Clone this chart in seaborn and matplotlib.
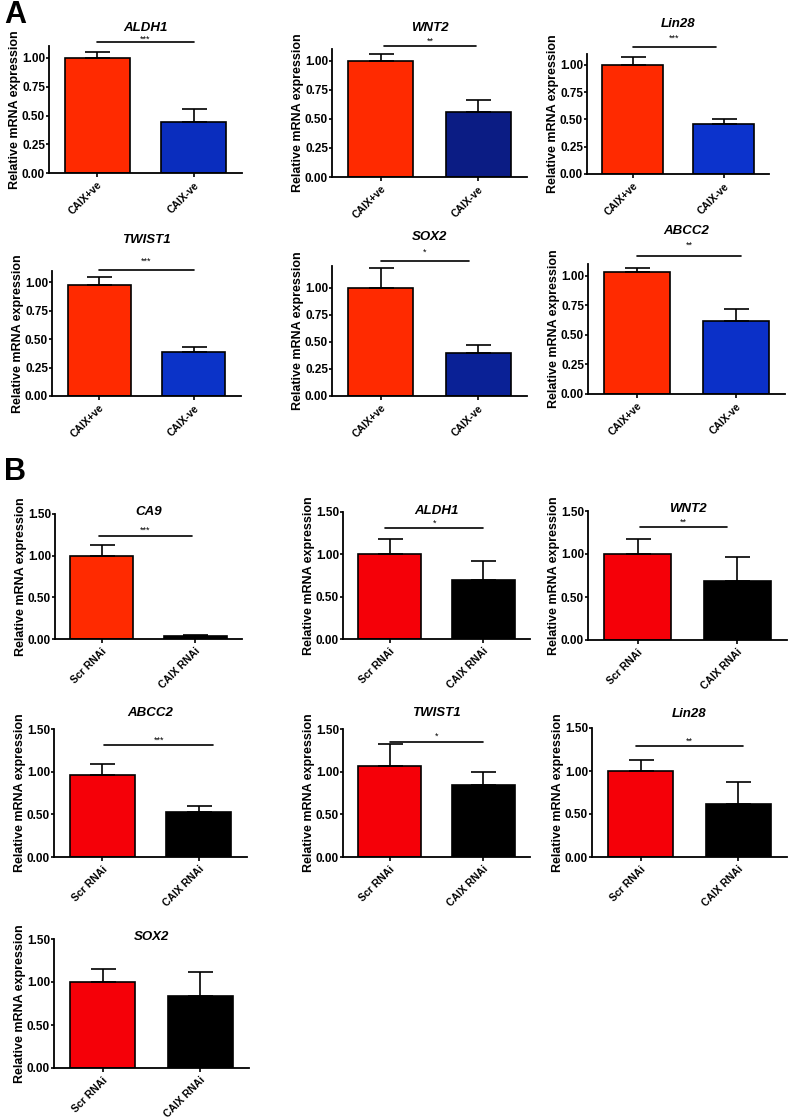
import matplotlib
matplotlib.use("Agg")
import matplotlib.pyplot as plt
import seaborn as sns
import pandas as pd

# ---------------- data ----------------
A_genes = ["ALDH1", "WNT2", "Lin28", "TWIST1", "SOX2", "ABCC2"]
A_groups = ["CAIX+ve", "CAIX-ve"]
A_pos_mean = [1.00, 1.00, 1.00, 0.98, 1.00, 1.03]
A_pos_err = [0.05, 0.06, 0.075, 0.07, 0.18, 0.04]
A_neg_mean = [0.44, 0.56, 0.46, 0.39, 0.40, 0.62]
A_neg_err = [0.12, 0.10, 0.045, 0.04, 0.075, 0.10]
A_sig = ["***", "**", "***", "***", "*", "**"]

B_genes = ["CA9", "ALDH1", "WNT2", "ABCC2", "TWIST1", "Lin28", "SOX2"]
B_groups = ["Scr RNAi", "CAIX RNAi"]
B_scr_mean = [1.00, 1.00, 1.00, 0.965, 1.07, 1.00, 1.00]
B_scr_err = [0.13, 0.18, 0.17, 0.12, 0.25, 0.13, 0.15]
B_kd_mean = [0.04, 0.70, 0.69, 0.53, 0.84, 0.62, 0.84]
B_kd_err = [0.01, 0.22, 0.27, 0.07, 0.16, 0.25, 0.28]
B_sig = ["***", "*", "**", "***", "*", "**", ""]

# ---------------- styles / layout ----------------
A_red = "#FF2A00"
A_blues = ["#0A2DBE", "#0B1C84", "#0C33CC", "#0B33C8", "#0A2196", "#0B30C8"]
B_reds = ["#FF2A00", "#F50008", "#F50008", "#F50008", "#F50008", "#F50008", "#F50008"]
B_black = "#000000"

W, H = 789, 1119
# left, right, bottom, top (pixels), title y (pixels), sig line y (data), sig x0, x1, ymax, star offset (pt)
A_layout = [
    (49, 242, 173, 46.5, 28, 1.14, 0.0, 1.0, 1.1, -1.5),
    (332, 527, 177, 49, 28, 1.13, 0.03, 0.98, 1.1, -0.5),
    (587, 769, 174, 54, 24, 1.165, 0.0, 0.92, 1.1, 3),
    (52, 241, 396, 271, 240, 1.11, 0.0, 1.0, 1.1, 3),
    (332, 527, 396, 266, 237, 1.25, 0.0, 0.9, 1.2, 3),
    (588, 785, 394, 264, 231, 1.17, 0.0, 1.05, 1.1, 4),
]
B_layout = [
    (55, 242, 639, 514, 512, 1.24, -0.03, 0.96, 1.5, 0.5),
    (343, 530, 639, 512, 511, 1.31, -0.05, 1.0, 1.5, 0.5),
    (588, 787, 640, 511, 509, 1.31, 0.02, 0.9, 1.5, 0.5),
    (54, 247, 857, 729, 713, 1.31, 0.02, 1.15, 1.5, 0.5),
    (343, 530, 857, 729, 713, 1.35, 0.0, 1.0, 1.5, 0.5),
    (592, 787, 857, 728, 714, 1.29, -0.05, 1.05, 1.5, 0.5),
    (54, 249, 1068, 939, 937, None, 0, 1, 1.5, 0.5),
]

sns.set_theme(style="ticks")
plt.rcParams["font.family"] = ["Liberation Sans", "DejaVu Sans"]
plt.rcParams["font.weight"] = "bold"
for k in ["text.color", "axes.labelcolor", "xtick.color", "ytick.color", "axes.edgecolor"]:
    plt.rcParams[k] = "black"

fig = plt.figure(figsize=(W / 100, H / 100), dpi=100)


def draw_panel(lay, gene, groups, means, errs, colors, sig, yticks):
    L, R, bot, top, ty, sy, sx0, sx1, ymax, soff = lay
    ax = fig.add_axes([L / W, 1 - bot / H, (R - L) / W, (bot - top) / H])
    df = pd.DataFrame({"group": groups, "value": means})
    sns.barplot(data=df, x="group", y="value", hue="group", palette=colors,
                legend=False, ax=ax, width=0.67, edgecolor="black",
                linewidth=1.2, saturation=1, errorbar=None, order=groups,
                hue_order=groups)
    ax.errorbar([0, 1], means, yerr=[[0, 0], errs], fmt="none", ecolor="black",
                elinewidth=1.2, capsize=9, capthick=1.2, zorder=1)
    ax.set_xlim(-0.5, 1.5)
    ax.set_ylim(0, ymax)
    ax.set_yticks(yticks)
    ax.set_yticklabels([f"{t:.2f}" for t in yticks], fontsize=8.5, fontweight="bold")
    ax.set_xticks([0, 1])
    ax.set_xticklabels(groups, rotation=45, ha="right", rotation_mode="anchor",
                       fontsize=7.5, fontweight="bold")
    ax.set_xlabel("")
    ax.set_ylabel("Relative mRNA expression", fontsize=9, fontweight="bold", labelpad=1)
    for s in ["top", "right"]:
        ax.spines[s].set_visible(False)
    for s in ["left", "bottom"]:
        ax.spines[s].set_linewidth(1.3)
        ax.spines[s].set_color("black")
    ax.tick_params(axis="y", length=2.5, width=1.2, pad=0.3, color="black")
    ax.tick_params(axis="x", length=3, width=1.2, pad=2, color="black")
    fig.text((L + R) / 2 / W, 1 - ty / H, gene, ha="center", va="center",
             fontsize=9.5, fontweight="bold", fontstyle="italic")
    if sig:
        ax.plot([sx0, sx1], [sy, sy], color="black", lw=1.2, clip_on=False)
        ax.annotate(sig, xy=((sx0 + sx1) / 2, sy), xytext=(0, soff),
                    textcoords="offset points", ha="center", va="bottom",
                    fontsize=6.5, fontweight="normal", annotation_clip=False)
    return ax


A_ticks = [0.0, 0.25, 0.5, 0.75, 1.0]
for i, g in enumerate(A_genes):
    draw_panel(A_layout[i], g, A_groups, [A_pos_mean[i], A_neg_mean[i]],
               [A_pos_err[i], A_neg_err[i]], [A_red, A_blues[i]], A_sig[i], A_ticks)

B_ticks = [0.0, 0.5, 1.0, 1.5]
for i, g in enumerate(B_genes):
    draw_panel(B_layout[i], g, B_groups, [B_scr_mean[i], B_kd_mean[i]],
               [B_scr_err[i], B_kd_err[i]], [B_reds[i], B_black], B_sig[i], B_ticks)

fig.text(4 / W, 1 - 15 / H, "A", fontsize=22, fontweight="bold", va="center", ha="left")
fig.text(4 / W, 1 - 472 / H, "B", fontsize=22, fontweight="bold", va="center", ha="left")

fig.savefig("out.png", dpi=100)
